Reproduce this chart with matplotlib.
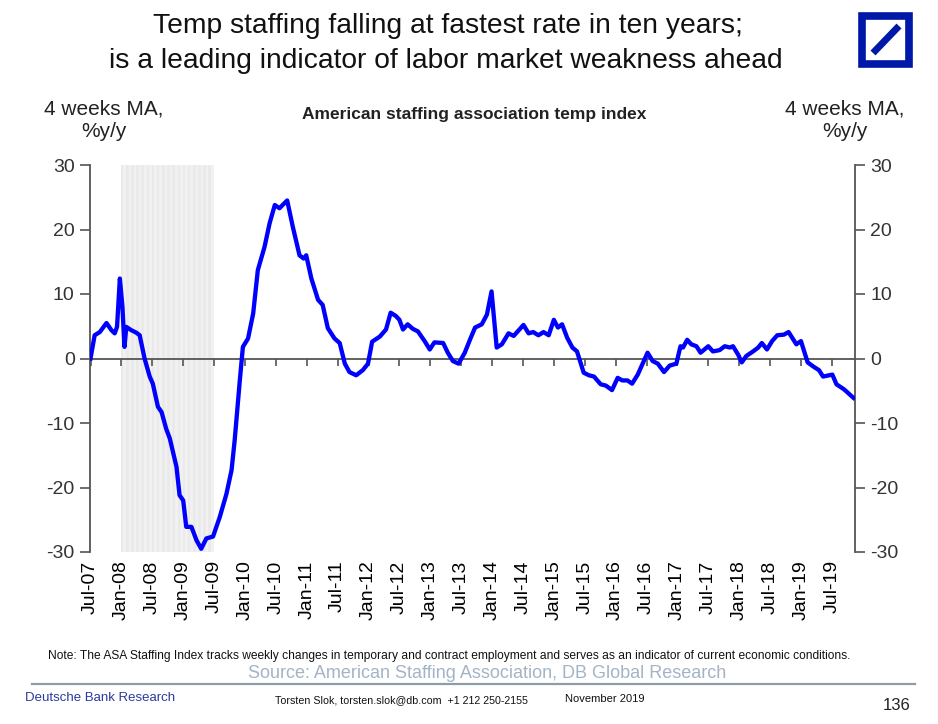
import matplotlib
matplotlib.use("Agg")
import numpy as np
import matplotlib.pyplot as plt
from matplotlib.patches import Rectangle
from matplotlib.lines import Line2D

plt.rcParams["font.family"] = ["Liberation Sans", "DejaVu Sans"]

# ── Data: months since Jul-2007, 4 weeks MA %y/y ──
months = [
    0.0, 0.8, 1.8, 3.1, 4.05, 4.7, 5.15, 5.7, 6.2, 6.6, 6.95, 7.9, 8.9, 9.55,
    10.5, 11.5, 12.1, 13.1, 13.8, 14.7, 15.4, 16.7, 17.3, 18.0, 18.6, 19.6,
    20.6, 21.5, 22.5, 23.8, 25.1, 26.4, 27.4, 28.0, 29.0, 29.6, 30.6, 31.6,
    32.5, 33.8, 34.8, 35.8, 36.7, 38.2, 39.3, 40.6, 41.4, 41.9, 42.9, 44.2,
    45.1, 46.1, 47.4, 48.4, 49.4, 50.3, 51.6, 52.9, 53.9, 54.7, 56.2, 57.4,
    58.3, 59.3, 60.0, 60.7, 61.6, 62.6, 63.6, 64.9, 65.9, 66.8, 68.5, 69.4,
    70.4, 71.5, 72.7, 73.7, 74.7, 76.0, 77.0, 77.4, 77.9, 78.9, 79.9, 81.2,
    82.2, 84.1, 85.1, 86.0, 87.0, 88.0, 89.0, 90.0, 90.8, 91.6, 92.6, 93.6,
    94.5, 95.8, 96.8, 97.8, 99.1, 100.1, 101.3, 102.4, 103.3, 104.3, 105.2,
    106.3, 107.3, 108.2, 109.2, 110.2, 111.4, 112.5, 113.8, 114.6, 115.1,
    115.9, 116.7, 117.7, 118.5, 120.0, 120.9, 122.2, 123.2, 124.2, 124.8,
    125.8, 126.5, 127.4, 128.7, 129.7, 130.4, 131.4, 132.4, 133.4, 134.7,
    135.6, 137.1, 138.0, 139.3, 140.5, 141.5, 142.3, 144.1, 144.9, 146.4,
    148.2,
]
temp_index = [
    0.0, 3.6, 4.1, 5.5, 4.4, 3.9, 4.9, 12.4, 8.0, 1.8, 4.9, 4.4, 4.0, 3.6,
    0.0, -2.8, -3.9, -7.5, -8.3, -10.9, -12.4, -16.8, -21.2, -22.0, -26.1, -26.1,
    -28.2, -29.5, -27.9, -27.6, -24.6, -21.0, -17.3, -12.7, -3.4, 1.8, 3.1, 7.0,
    13.7, 17.3, 21.0, 23.8, 23.3, 24.5, 20.4, 16.0, 15.5, 16.0, 12.4, 9.1,
    8.3, 4.7, 3.1, 2.4, -0.8, -2.1, -2.6, -1.8, -0.8, 2.6, 3.4, 4.5,
    7.1, 6.6, 6.0, 4.5, 5.3, 4.6, 4.2, 2.7, 1.4, 2.5, 2.4, 0.9,
    -0.4, -0.8, 0.9, 2.9, 4.8, 5.3, 6.8, 8.4, 10.4, 1.7, 2.2, 3.9,
    3.5, 5.2, 3.9, 4.1, 3.6, 4.1, 3.6, 6.0, 4.8, 5.3, 3.2, 1.7,
    1.1, -2.2, -2.6, -2.8, -4.0, -4.2, -4.9, -3.0, -3.4, -3.4, -3.9,
    -2.5, -0.7, 0.9, -0.4, -0.8, -2.1, -1.1, -0.8, 1.9, 1.7,
    2.9, 2.2, 1.9, 0.9, 1.9, 1.1, 1.3, 1.9, 1.7, 1.9,
    0.6, -0.6, 0.4, 1.1, 1.7, 2.4, 1.4, 2.7, 3.6, 3.7,
    4.1, 2.2, 2.7, -0.6, -1.3, -1.8, -2.8, -2.5, -4.0, -4.8,
    -6.1,
]

tick_months = list(range(0, 145, 6))
tick_labels = ["Jul-07", "Jan-08", "Jul-08", "Jan-09", "Jul-09", "Jan-10", "Jul-10",
               "Jan-11", "Jul-11", "Jan-12", "Jul-12", "Jan-13", "Jul-13", "Jan-14",
               "Jul-14", "Jan-15", "Jul-15", "Jan-16", "Jul-16", "Jan-17", "Jul-17",
               "Jan-18", "Jul-18", "Jan-19", "Jul-19"]
y_ticks = [30, 20, 10, 0, -10, -20, -30]
recession = (5.9, 23.9)   # Dec-07 .. Jun-09

W, H = 938, 724
fig = plt.figure(figsize=(W / 100, H / 100), dpi=100)

def fx(px):
    return px / W

def fy(py):
    return 1 - py / H

ax = fig.add_axes([fx(90), fy(552), fx(855) - fx(90), fy(165) - fy(552)])

# recession shading, weekly bars give the faint stripes
ax.axvspan(*recession, color="#f1f1f1", lw=0, zorder=0)
stripes = np.arange(recession[0], recession[1], 1.0)
ax.bar(stripes, 60, bottom=-30, width=0.5, align="edge", color="#eaeaea", lw=0, zorder=0)

ax.plot(months, temp_index, color="#0000ff", lw=3.1, solid_joinstyle="round", zorder=3)
ax.set_xlim(-0.1, 148.5)
ax.set_ylim(-30, 30)

axis_col = "#555555"
ax.spines["top"].set_visible(False)
ax.spines["bottom"].set_position(("data", 0))
for side in ["bottom", "left", "right"]:
    ax.spines[side].set_color(axis_col)
    ax.spines[side].set_linewidth(1.3)
    ax.spines[side].set_zorder(2)

ax.set_xticks(tick_months)
ax.tick_params(axis="x", direction="out", length=5, width=1.2, color=axis_col, labelbottom=False)
ax.set_yticks(y_ticks)
ax.set_yticklabels([str(v) for v in y_ticks])
ax.tick_params(axis="y", direction="out", length=7, width=1.2, color=axis_col,
               labelsize=14, labelcolor="#333333", left=True, right=True,
               labelleft=True, labelright=True, pad=4)

sec = ax.secondary_xaxis("bottom")
sec.set_xticks(tick_months)
sec.set_xticklabels(tick_labels, rotation=90, fontsize=14, va="top")
sec.tick_params(length=0, pad=6)
sec.spines["bottom"].set_visible(False)

# ── Texts ──
fig.text(fx(448), fy(26), "Temp staffing falling at fastest rate in ten years;",
         ha="center", va="center", fontsize=20.3, color="#111111")
fig.text(fx(446), fy(61), "is a leading indicator of labor market weakness ahead",
         ha="center", va="center", fontsize=20.3, color="#111111")
fig.text(fx(474), fy(114), "American staffing association temp index",
         ha="center", va="center", fontsize=12.5, fontweight="bold", color="#222222")
fig.text(fx(104), fy(120), "4 weeks MA,\n%y/y", ha="center", va="center",
         fontsize=15, color="#222222", linespacing=1.25)
fig.text(fx(845), fy(120), "4 weeks MA,\n%y/y", ha="center", va="center",
         fontsize=15, color="#222222", linespacing=1.25)

fig.text(fx(48), fy(656), "Note: The ASA Staffing Index tracks weekly changes in temporary and "
         "contract employment and serves as an indicator of current economic conditions.",
         ha="left", va="center", fontsize=8.63, color="#111111")
fig.text(fx(487), fy(673), "Source: American Staffing Association, DB Global Research",
         ha="center", va="center", fontsize=13, color="#a3b4c6")
fig.add_artist(Line2D([fx(32), fx(915)], [fy(684), fy(684)], color="#8d9cab", lw=1.6))
fig.text(fx(25), fy(698), "Deutsche Bank Research", ha="left", va="center",
         fontsize=9.5, color="#2b3a9c")
fig.text(fx(275), fy(700), "Torsten Slok, torsten.slok@db.com  +1 212 250-2155",
         ha="left", va="center", fontsize=7.7, color="#111111")
fig.text(fx(565), fy(699), "November 2019", ha="left", va="center",
         fontsize=8, color="#111111")
fig.text(fx(910), fy(705), "136", ha="right", va="center", fontsize=12, color="#222222")

# ── Logo ──
fig.add_artist(Rectangle((fx(861.5), fy(63.5)), fx(47), fy(15.5) - fy(63.5),
                         fill=False, edgecolor="#0018a8", lw=5.5))
fig.add_artist(Line2D([fx(873), fx(899)], [fy(53), fy(26)], color="#0018a8", lw=5,
                      solid_capstyle="butt"))

fig.savefig("out.png", dpi=100)
